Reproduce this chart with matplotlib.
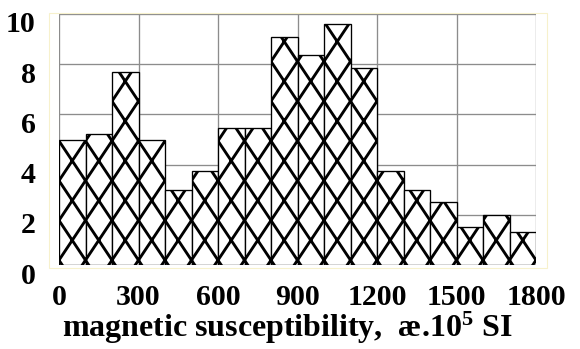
import numpy as np
import matplotlib
matplotlib.use('Agg')
import matplotlib.pyplot as plt
import matplotlib.hatch as mhatch
import matplotlib.transforms as mtrans
from matplotlib.patches import Rectangle

# ---- data ----
bin_edges = list(range(0, 1801, 100))
counts = [5.0, 5.2, 7.7, 5.0, 3.0, 3.75, 5.45, 5.45, 9.1, 8.35, 9.6, 7.85,
          3.75, 3.0, 2.5, 1.5, 2.0, 1.3]
x_ticks = [0, 300, 600, 900, 1200, 1500, 1800]
y_ticks = [0, 2, 4, 6, 8, 10]
x_label = r"magnetic susceptibility,  æ.10$^{5}$ SI"

DPI = 159


# ---- custom lattice hatch (diamond cross pattern) ----
class LatticeHatch(mhatch.HatchPatternBase):
    NC, NR = 6, 4
    DU, DV = 0.726, -0.045

    def __init__(self, hatch, density):
        self.ks = list(range(-self.NR - 3, self.NC + self.NR + 4))
        if 'x' in hatch:
            self.num_vertices = len(self.ks) * 2 * 2
        else:
            self.num_vertices = 0

    def set_vertices_and_codes(self, vertices, codes):
        nc, nr, du, dv = self.NC, self.NR, self.DU, self.DV
        i = 0
        for k in self.ks:
            for sgn in (1, -1):
                pts = []
                for vp in (-nr - 3.0, nr + 3.0):
                    up = k + sgn * vp
                    pts.append(((up + du) / nc, (vp + dv) / nr))
                vertices[i] = pts[0]
                vertices[i + 1] = pts[1]
                codes[i] = matplotlib.path.Path.MOVETO
                codes[i + 1] = matplotlib.path.Path.LINETO
                i += 2


mhatch._hatch_types = [LatticeHatch]

HATCH_LW = 1.3
plt.rcParams['font.family'] = ['Liberation Serif', 'DejaVu Serif']
plt.rcParams['font.weight'] = 'bold'
plt.rcParams['mathtext.fontset'] = 'custom'
plt.rcParams['mathtext.rm'] = 'Liberation Serif:bold'
plt.rcParams['mathtext.bf'] = 'Liberation Serif:bold'
plt.rcParams['mathtext.it'] = 'Liberation Serif:bold'
plt.rcParams['mathtext.default'] = 'rm'
plt.rcParams['hatch.linewidth'] = HATCH_LW
plt.rcParams['hatch.color'] = 'black'

W, H = 580, 349
fig = plt.figure(figsize=(W / DPI, H / DPI), dpi=DPI)
ax = fig.add_axes([59 / W, 1 - 265 / H, 477 / W, 251 / H])

# faint outer frame
fig.patches.append(Rectangle((49 / W, 1 - 268 / H), 498 / W, 255 / H,
                             transform=fig.transFigure, fill=False,
                             edgecolor='#f7f1cc', linewidth=0.5))

lefts = bin_edges[:-1]
widths = [b - a for a, b in zip(bin_edges[:-1], bin_edges[1:])]
bars = ax.bar(lefts, counts, width=widths, align='edge', facecolor='white',
              edgecolor='black', linewidth=0.6, hatch='x', zorder=3)
for b in bars:
    if hasattr(b, 'set_hatch_linewidth'):
        b.set_hatch_linewidth(HATCH_LW)

ax.set_xlim(0, 1800)
ax.set_ylim(0, 10)
ax.set_xticks(x_ticks)
ax.set_yticks(y_ticks)
ax.grid(True, color='#8c8c8c', linewidth=0.6, zorder=0)
ax.set_axisbelow(True)
for s in ax.spines.values():
    s.set_visible(False)

FS = 13.5
ax.tick_params(axis='both', length=0, labelsize=FS)
ax.tick_params(axis='x', pad=8.5)
ax.tick_params(axis='y', pad=10.5)
for lab in ax.get_xticklabels() + ax.get_yticklabels():
    lab.set_fontweight('bold')

off = mtrans.ScaledTranslation(0, -8 / DPI, fig.dpi_scale_trans)
for lab in ax.get_yticklabels():
    lab.set_transform(lab.get_transform() + off)

ax.set_xlabel(x_label, fontsize=14.5, fontweight='bold', labelpad=-0.5)
ax.xaxis.label.set_x(0.478)

fig.savefig('out.png', dpi=DPI)
